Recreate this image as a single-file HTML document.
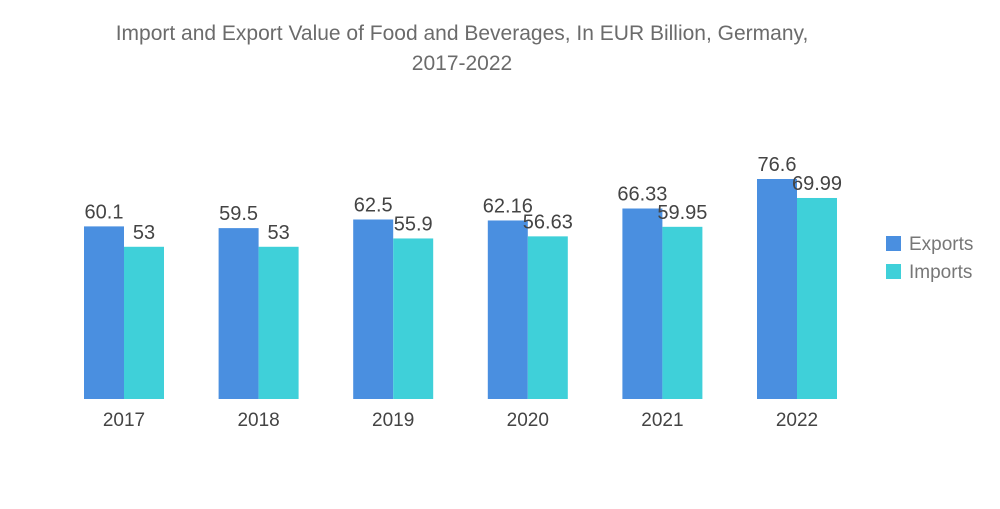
<!DOCTYPE html>
<html><head><meta charset="utf-8"><style>
body{margin:0;background:#fff;font-family:"Liberation Sans",sans-serif}
</style></head><body>
<svg width="1000" height="504">
<text x="462" y="40" text-anchor="middle" font-size="21" fill="#6b6b6b">Import and Export Value of Food and Beverages, In EUR Billion, Germany,</text>
<text x="462" y="70" text-anchor="middle" font-size="21" fill="#6b6b6b">2017-2022</text>
<g id="bars"></g>
<rect x="886" y="236" width="15" height="15" fill="#4a8fe0"/>
<text x="909" y="250" font-size="19" fill="#777">Exports</text>
<rect x="886" y="264" width="15" height="15" fill="#3fd0d9"/>
<text x="909" y="278" font-size="19" fill="#777">Imports</text>
</svg>
<script>
const categories=["2017","2018","2019","2020","2021","2022"];
const exportsVals=[60.1,59.5,62.5,62.16,66.33,76.6];
const importsVals=[53,53,55.9,56.63,59.95,69.99];
const g=document.getElementById('bars');
const NS="http://www.w3.org/2000/svg";
const base=399,k=2.872;
const xC=i=>124+i*134.6;
const yS=v=>base-v*k;
function mk(tag,attrs){const e=document.createElementNS(NS,tag);for(const a in attrs)e.setAttribute(a,attrs[a]);g.appendChild(e);return e;}
categories.forEach((c,i)=>{
  [[exportsVals,"#4a8fe0",-40,"exports"],[importsVals,"#3fd0d9",0,"imports"]].forEach(([arr,col,off,nm])=>{
    const v=arr[i];
    const r=mk('rect',{x:xC(i)+off,y:yS(v),width:40,height:base-yS(v),fill:col});
    
    
    const t=mk('text',{x:xC(i)+off+20,y:yS(v)-8,'text-anchor':'middle','font-size':20,fill:'#444'});
    t.textContent=v;
    
    
  });
  const t=mk('text',{x:xC(i),y:426,'text-anchor':'middle','font-size':19,fill:'#444'});
  t.textContent=c;
  
  
});
</script>
</body></html>
